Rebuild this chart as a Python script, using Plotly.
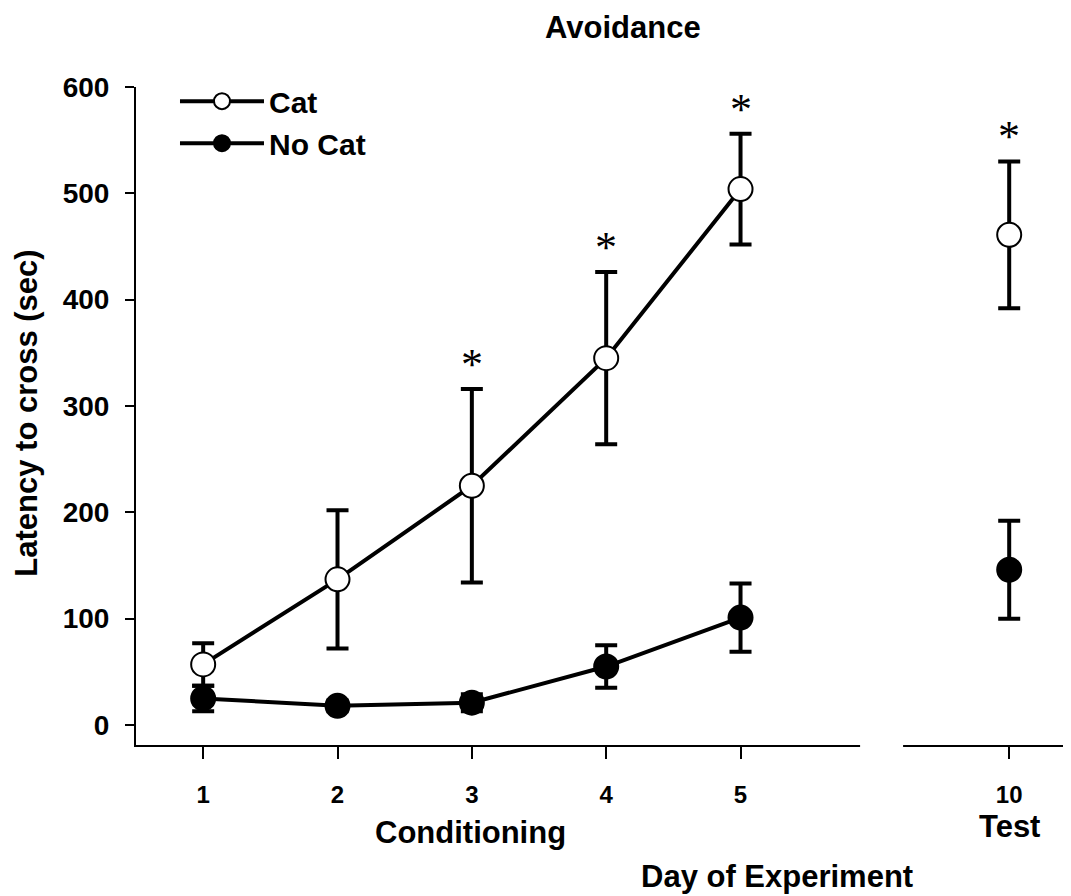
import plotly.graph_objects as go

# ---- data ----
day_labels = ["1", "2", "3", "4", "5", "10"]
day_pos = [1, 2, 3, 4, 5, 7]          # axis position of each day (break before day 10)
cat_mean = [57, 137, 225, 345, 504, 461]
cat_sem = [20, 65, 91, 81, 52, 69]
nocat_mean = [25, 18, 21, 55, 101, 146]
nocat_sem = [12, 5, 8, 20, 32, 46]
signif_days = ["3", "4", "5", "10"]
y_ticks = [0, 100, 200, 300, 400, 500, 600]

FONT = "Liberation Sans, Arial, sans-serif"

fig = go.Figure()

def add_group(name, mean, sem, fill):
    marker = dict(size=24, color=fill, line=dict(color="black", width=2))
    line = dict(color="black", width=4)
    err = dict(type="data", color="black", thickness=4, width=11)
    fig.add_trace(go.Scatter(
        x=day_pos[:5], y=mean[:5], mode="lines+markers", name=name,
        marker=marker, line=line, error_y=dict(err, array=sem[:5]),
        legendgroup=name,
    ))
    fig.add_trace(go.Scatter(
        x=day_pos[5:], y=mean[5:], mode="markers", name=name,
        marker=marker, error_y=dict(err, array=sem[5:]), showlegend=False,
        legendgroup=name,
    ))

add_group("Cat", cat_mean, cat_sem, "white")
add_group("No Cat", nocat_mean, nocat_sem, "black")

# significance asterisks above Cat error bars
for d in signif_days:
    i = day_labels.index(d)
    fig.add_annotation(
        x=day_pos[i], y=cat_mean[i] + cat_sem[i], text="*", showarrow=False,
        xanchor="center", yanchor="bottom", yshift=-2,
        font=dict(family="Liberation Serif, Times New Roman, serif", size=44, color="black"),
    )

# axis break (gap in x-axis line)
fig.add_shape(type="rect", xref="x", yref="paper", x0=5.89, x1=6.21, y0=-0.006, y1=0.006,
              fillcolor="white", line=dict(width=0), layer="above")

BIG = dict(family=FONT, size=31, color="black", weight="bold")
def label(text, x, y, xref, textangle=0):
    fig.add_annotation(x=x, y=y, xref=xref, yref="paper", text=text, showarrow=False,
                       xanchor="center", yanchor="middle", textangle=textangle, font=BIG)

label("Avoidance", 0.521, 1.0897, "paper")
label("Latency to cross (sec)", -0.1166, 0.505, "paper", textangle=-90)
label("Conditioning", 2.99, -0.1337, "x")
label("Test", 7, -0.1246, "x")
label("Day of Experiment", 5.27, -0.2006, "x")

fig.update_layout(
    width=1063, height=888,
    margin=dict(l=128, r=0, t=79, b=151),
    paper_bgcolor="white", plot_bgcolor="white",
    font=dict(family=FONT, color="black"),
    showlegend=True,
    legend=dict(x=0.0417, y=1.018, xanchor="left", yanchor="top",
                font=dict(family=FONT, size=30, color="black", weight="bold"),
                bgcolor="rgba(0,0,0,0)", itemwidth=84, tracegroupgap=0),
    xaxis=dict(range=[0.5, 7.46], tickmode="array", tickvals=day_pos, ticktext=day_labels,
               showgrid=False, zeroline=False, showline=True, linecolor="black", linewidth=2,
               ticks="outside", ticklen=12, tickwidth=2, tickcolor="black",
               ticklabelstandoff=15,
               tickfont=dict(family=FONT, size=24, color="black", weight="bold")),
    yaxis=dict(range=[-18.8, 600], tickmode="array", tickvals=y_ticks,
               showgrid=False, zeroline=False, showline=True, linecolor="black", linewidth=2,
               ticks="outside", ticklen=9, tickwidth=2, tickcolor="black",
               ticklabelstandoff=10,
               tickfont=dict(family=FONT, size=28, color="black", weight="bold")),
)

fig.write_html("out.html")
